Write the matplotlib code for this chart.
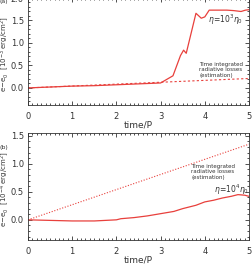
import matplotlib
matplotlib.use("Agg")
import matplotlib.pyplot as plt
from matplotlib.ticker import MultipleLocator

# panel (a): eta = 10^3 eta_0
t_a = [0, 0.5, 1, 1.5, 2, 2.5, 3.0, 3.28, 3.45, 3.52, 3.58, 3.8, 3.92, 4.0, 4.1, 4.3, 4.5, 4.65, 4.82, 4.92, 5.0]
e_a = [0, 0.02, 0.04, 0.05, 0.07, 0.09, 0.11, 0.27, 0.72, 0.84, 0.77, 1.66, 1.55, 1.58, 1.73, 1.73, 1.73, 1.72, 1.70, 1.73, 1.74]
t_rad_a = [0, 5]
e_rad_a = [0, 0.21]

# panel (b): eta = 10^4 eta_0
t_b = [0, 0.5, 1, 1.5, 2, 2.1, 2.4, 2.7, 3.0, 3.3, 3.5, 3.8, 4.0, 4.2, 4.4, 4.6, 4.75, 4.9, 5.0]
e_b = [0, -0.01, -0.02, -0.02, 0.0, 0.02, 0.04, 0.07, 0.11, 0.15, 0.2, 0.26, 0.32, 0.35, 0.39, 0.42, 0.45, 0.44, 0.42]
t_rad_b = [0, 5]
e_rad_b = [0, 1.35]

red = '#e8403c'
txt = '#333333'
W, H = 253, 266

fig = plt.figure(figsize=(W / 100, H / 100), dpi=100)
plt.rcParams['font.family'] = 'DejaVu Sans'

def style(ax, ylim, ylabel, tag, tag_y):
    ax.set_xlim(0, 5)
    ax.set_ylim(*ylim)
    ax.xaxis.set_major_locator(MultipleLocator(1))
    ax.xaxis.set_minor_locator(MultipleLocator(0.1))
    ax.yaxis.set_major_locator(MultipleLocator(0.5))
    ax.yaxis.set_minor_locator(MultipleLocator(0.1))
    ax.tick_params(which='both', direction='in', top=True, right=True,
                   labelsize=6, colors=txt, width=0.6)
    ax.tick_params(which='major', length=3)
    ax.tick_params(which='minor', length=1.5)
    ax.tick_params(axis='y', pad=3)
    ax.tick_params(axis='x', pad=5)
    ax.yaxis.set_major_formatter(plt.FormatStrFormatter('%.1f'))
    for s in ax.spines.values():
        s.set_linewidth(0.6)
        s.set_color(txt)
    ax.set_xlabel('time/P', fontsize=6.5, color=txt, labelpad=0)
    ax.set_ylabel(ylabel, fontsize=5, color=txt, va='center')
    ax.yaxis.set_label_coords(-23 / 221, 0.48)
    fig.text(4 / W, 1 - tag_y / H, tag, fontsize=4.5, color=txt, ha='center', va='center')

ax1 = fig.add_axes([28 / W, (H - 105) / H, 221 / W, 107 / H])
ax1.plot(t_a, e_a, color=red, lw=0.9)
ax1.plot(t_rad_a, e_rad_a, color=red, lw=0.8, linestyle=(0, (2, 2)))
ax1.text(4.07, 1.52, r'$\eta\!=\!10^3\eta_0$', fontsize=5.5, color=txt, va='center')
ax1.text(3.88, 0.58, 'Time integrated\nradiative losses\n(estimation)', fontsize=4,
         color=txt, va='top', linespacing=1.1)
style(ax1, (-0.38, 2.0), r'e$-$e$_0$  [10$^{-3}$ erg/cm$^2$]', '(a)', 2)

ax2 = fig.add_axes([28 / W, (H - 240) / H, 221 / W, 107 / H])
ax2.plot(t_b, e_b, color=red, lw=0.9)
ax2.plot(t_rad_b, e_rad_b, color=red, lw=0.8, linestyle=(0, (1, 1.5)))
ax2.text(4.2, 0.53, r'$\eta\!=\!10^4\eta_0$', fontsize=5.5, color=txt, va='center')
ax2.text(3.69, 1.0, 'Time integrated\nradiative losses\n(estimation)', fontsize=4,
         color=txt, va='top', linespacing=1.1)
style(ax2, (-0.36, 1.55), r'e$-$e$_0$  [10$^{-4}$ erg/cm$^2$]', '(b)', 147)

fig.savefig('out.png', dpi=100)
